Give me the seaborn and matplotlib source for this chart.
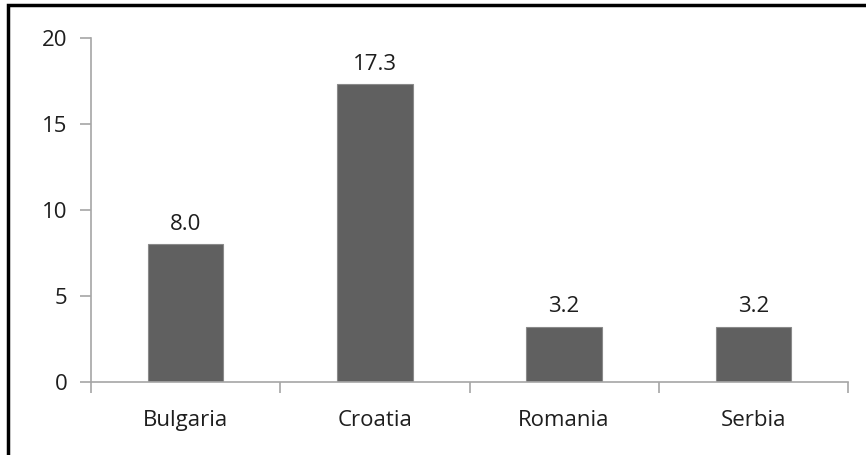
import matplotlib
matplotlib.use("Agg")
import matplotlib.pyplot as plt
import matplotlib.patches as mpatches
import seaborn as sns
import pandas as pd

countries = ["Bulgaria", "Croatia", "Romania", "Serbia"]
values = [8.0, 17.3, 3.2, 3.2]
y_ticks = [0, 5, 10, 15, 20]

df = pd.DataFrame({"country": countries, "value": values})

sns.set_theme(style="white")
plt.rcParams["font.family"] = ["Open Sans", "DejaVu Sans"]

W, H, DPI = 866, 455, 100
fig = plt.figure(figsize=(W / DPI, H / DPI), dpi=DPI)
ax = fig.add_axes([91 / W, 1 - 382 / H, (848 - 91) / W, (382 - 38) / H])

sns.barplot(data=df, x="country", y="value", ax=ax, color="#606060",
            width=0.4, saturation=1, edgecolor="#8a8a8a", linewidth=0.8)

ax.set_ylim(0, 20)
ax.set_xlim(-0.5, len(countries) - 0.5)
ax.set_yticks(y_ticks)
ax.set_xlabel("")
ax.set_ylabel("")

axis_grey = "#a6a6a6"
text_col = "#1e1e1e"
fs = 16
for side in ("top", "right"):
    ax.spines[side].set_visible(False)
for side in ("left", "bottom"):
    ax.spines[side].set_color(axis_grey)
    ax.spines[side].set_linewidth(1.2)

# category ticks sit between the bars
ax.set_xticks([i - 0.5 for i in range(len(countries) + 1)], minor=True)
ax.set_xticks(range(len(countries)))
ax.set_xticklabels(countries)
ax.tick_params(axis="x", which="major", length=0, pad=20, labelsize=fs, labelcolor=text_col)
ax.tick_params(axis="x", which="minor", length=8, width=1.2, color=axis_grey, direction="out", bottom=True)
ax.tick_params(axis="y", length=8, width=1.2, color=axis_grey, direction="out", left=True,
               pad=9, labelsize=fs, labelcolor=text_col)

for i, v in enumerate(values):
    ax.annotate(f"{v:.1f}", (i, v), xytext=(0, 7), textcoords="offset points",
                ha="center", va="bottom", fontsize=fs, color=text_col)

# outer frame around the chart
fig.patches.append(mpatches.Rectangle((8 / W, -0.1), 1.2, (1 - 5 / H) + 0.1,
                                      transform=fig.transFigure, fill=False,
                                      edgecolor="black", linewidth=2.5))

fig.savefig("out.png", dpi=DPI)
